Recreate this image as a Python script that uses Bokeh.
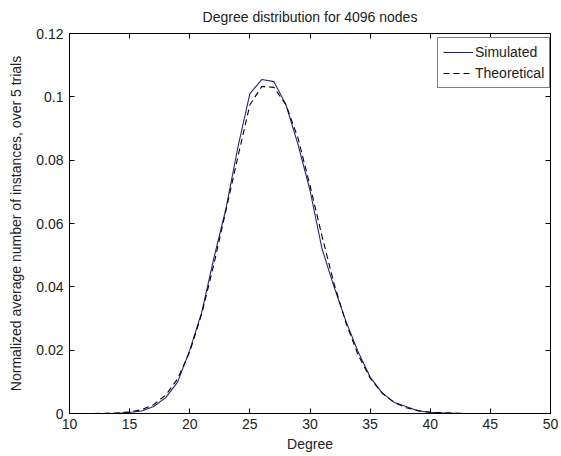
from bokeh.plotting import figure
from bokeh.models import (ColumnDataSource, FixedTicker, LinearAxis, Legend, LegendItem, Range1d)
from bokeh.embed import file_html
from bokeh.resources import INLINE

# ---- data ----
degree = [12, 13, 14, 15, 16, 17, 18, 19, 20, 21, 22, 23, 24, 25, 26, 27, 28,
          29, 30, 31, 32, 33, 34, 35, 36, 37, 38, 39, 40, 41, 42, 43, 44]
simulated = [0.0000, 0.0000, 0.0001, 0.0003, 0.0008, 0.0022, 0.0050, 0.0100,
             0.0200, 0.0320, 0.0490, 0.0645, 0.0840, 0.1010, 0.1055, 0.1048,
             0.0975, 0.0850, 0.0705, 0.0520, 0.0400, 0.0290, 0.0195, 0.0115,
             0.0065, 0.0035, 0.0022, 0.0008, 0.0004, 0.0002, 0.0001, 0.0000,
             0.0000]
theoretical = [0.0000, 0.0001, 0.0002, 0.0005, 0.0012, 0.0028, 0.0058, 0.0110,
               0.0195, 0.0315, 0.0470, 0.0640, 0.0810, 0.0975, 0.1033, 0.1030,
               0.0975, 0.0870, 0.0720, 0.0560, 0.0410, 0.0285, 0.0185, 0.0112,
               0.0064, 0.0035, 0.0018, 0.0009, 0.0004, 0.0002, 0.0001, 0.0000,
               0.0000]
x_ticks = [10, 15, 20, 25, 30, 35, 40, 45, 50]
x_tick_labels = ["10", "15", "20", "25", "30", "35", "40", "45", "50"]
y_ticks = [0, 0.02, 0.04, 0.06, 0.08, 0.1, 0.12]
y_tick_labels = ["0", "0.02", "0.04", "0.06", "0.08", "0.1", "0.12"]

FONT = "Liberation Sans"
TEXT = "#222222"
FS = "14px"

src = ColumnDataSource(dict(degree=degree, simulated=simulated, theoretical=theoretical))

p = figure(output_backend="svg", toolbar_location=None,
           frame_width=481, frame_height=380,
           x_range=Range1d(10, 50), y_range=Range1d(0, 0.12),
           title="Degree distribution for 4096 nodes",
           min_border_left=69, min_border_right=10, min_border_top=33, min_border_bottom=43)

p.background_fill_color = "white"
p.border_fill_color = "white"
p.outline_line_color = "black"
p.outline_line_width = 1
p.grid.visible = False

p.title.align = "center"
p.title.vertical_align = "top"
p.title.text_font = FONT
p.title.text_font_size = FS
p.title.text_font_style = "normal"
p.title.text_color = TEXT
p.title.standoff = 14
p.title.offset = 0

r_sim = p.line("degree", "simulated", source=src, line_color="#23238f", line_width=1.1)
r_th = p.line("degree", "theoretical", source=src, line_color="black", line_width=1.1,
              line_dash="6 4")


def style_axis(ax, ticks, labels, show_labels=True):
    ax.ticker = FixedTicker(ticks=ticks)
    ax.minor_tick_line_color = None
    ax.major_tick_in = 5
    ax.major_tick_out = 0
    ax.axis_line_color = "black"
    ax.major_tick_line_color = "black"
    ax.major_label_text_font = FONT
    if show_labels:
        ax.major_label_overrides = {t: l for t, l in zip(ticks, labels)}
        ax.major_label_text_font_size = FS
        ax.major_label_text_color = TEXT
    else:
        # mirrored box ticks only, no labels drawn
        ax.major_label_text_font_size = "1px"
        ax.major_label_text_color = None
        ax.major_label_standoff = 0
    ax.axis_label_text_font = FONT
    ax.axis_label_text_font_size = FS
    ax.axis_label_text_font_style = "normal"
    ax.axis_label_text_color = TEXT


style_axis(p.xaxis[0], x_ticks, x_tick_labels)
p.xaxis[0].axis_label = "Degree"
p.xaxis[0].major_label_standoff = 5
p.xaxis[0].axis_label_standoff = 4

style_axis(p.yaxis[0], y_ticks, y_tick_labels)
p.yaxis[0].axis_label = "Normalized average number of instances, over 5 trials"
p.yaxis[0].major_label_standoff = 6
p.yaxis[0].axis_label_standoff = 9

top_ax = LinearAxis()
style_axis(top_ax, x_ticks, x_tick_labels, show_labels=False)
p.add_layout(top_ax, "above")

right_ax = LinearAxis()
style_axis(right_ax, y_ticks, y_tick_labels, show_labels=False)
p.add_layout(right_ax, "right")

legend = Legend(items=[LegendItem(label="Simulated", renderers=[r_sim]),
                       LegendItem(label="Theoretical", renderers=[r_th])],
                location=(368, 325))
legend.border_line_color = "black"
legend.border_line_width = 1
legend.background_fill_color = "white"
legend.background_fill_alpha = 1
legend.label_text_font = FONT
legend.label_text_font_size = FS
legend.label_text_color = TEXT
legend.glyph_width = 30
legend.glyph_height = 18
legend.label_height = 18
legend.label_standoff = 2
legend.padding = 5
legend.spacing = 3
legend.margin = 0
p.add_layout(legend, "center")

open("out.html", "w").write(file_html(p, INLINE))
